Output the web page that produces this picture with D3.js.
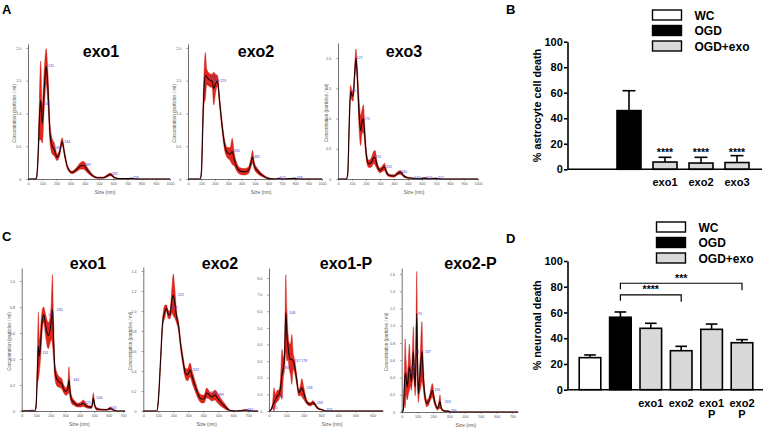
<!DOCTYPE html>
<html><head><meta charset="utf-8">
<script src="https://cdn.jsdelivr.net/npm/d3@7"></script>
<style>body{margin:0;background:#fff}svg{display:block}</style>
</head><body>
<svg id="c" width="769" height="434"></svg>
<script>
// ---------- DATA ----------
// NTA size distributions: [size nm, mean concentration, +/- error]
const ntaA1 = [[0,0,0],[50,0,0],[60,0.02,0.01],[70,0.3,0.1],[80,0.9,0.3],[89,1.2,0.6],[101,0.85,0.3],[115,1.4,0.3],[128,1.72,0.27],[140,1.4,0.25],[155,0.7,0.15],[170,0.5,0.12],[185,0.45,0.1],[205,0.33,0.05],[220,0.38,0.05],[240,0.57,0.06],[260,0.35,0.05],[280,0.17,0.03],[310,0.1,0.02],[340,0.14,0.03],[370,0.2,0.05],[390,0.21,0.06],[420,0.13,0.04],[450,0.06,0.02],[490,0.02,0.01],[530,0.02,0.01],[560,0.05,0.02],[580,0.07,0.02],[610,0.02,0.01],[650,0.005,0.003],[700,0.005,0.003],[730,0.01,0.005],[780,0,0],[1000,0,0]];
const ntaA2 = [[0,0,0],[90,0,0],[100,0.1,0.05],[110,0.8,0.2],[120,1.4,0.25],[130,1.58,0.35],[140,1.56,0.12],[155,1.52,0.1],[170,1.5,0.1],[180,1.5,0.1],[192,1.38,0.25],[205,1.45,0.15],[220,1.5,0.08],[235,1.2,0.08],[255,0.8,0.08],[275,0.5,0.08],[295,0.4,0.08],[315,0.38,0.1],[330,0.42,0.2],[345,0.3,0.1],[365,0.18,0.06],[390,0.12,0.05],[420,0.11,0.05],[450,0.13,0.05],[470,0.25,0.07],[482,0.34,0.1],[495,0.2,0.05],[520,0.12,0.04],[560,0.05,0.02],[600,0.01,0.01],[650,0,0],[680,0.01,0.005],[720,0,0],[800,0.01,0.005],[830,0,0],[1000,0,0]];
const ntaA3 = [[0,0,0],[60,0,0],[70,0.1,0.05],[80,0.9,0.15],[90,1.45,0.1],[100,1.38,0.08],[108,1.37,0.08],[118,1.7,0.12],[128,2.0,0.15],[138,1.7,0.15],[150,1.1,0.25],[162,0.8,0.25],[172,0.95,0.2],[182,1.0,0.23],[192,0.7,0.15],[205,0.35,0.08],[220,0.25,0.06],[240,0.28,0.08],[255,0.36,0.1],[265,0.35,0.12],[280,0.22,0.06],[300,0.14,0.04],[320,0.18,0.05],[332,0.2,0.06],[345,0.12,0.04],[365,0.06,0.02],[400,0.05,0.02],[430,0.1,0.03],[445,0.11,0.03],[470,0.05,0.02],[500,0.02,0.01],[540,0.01,0.005],[580,0.005,0.003],[620,0.015,0.01],[650,0.005,0.003],[700,0.01,0.005],[740,0,0],[1000,0,0]];
const ntaC1 = [[0,0,0],[40,0.002,0.001],[90,0,0],[100,0.05,0.03],[108,0.3,0.1],[115,0.5,0.26],[122,0.42,0.12],[132,0.55,0.12],[142,0.7,0.08],[152,0.74,0.06],[162,0.68,0.08],[175,0.6,0.1],[184,0.58,0.1],[195,0.62,0.1],[205,0.7,0.15],[212,0.78,0.27],[220,0.55,0.15],[230,0.3,0.06],[245,0.24,0.05],[262,0.22,0.04],[276,0.21,0.04],[290,0.17,0.03],[305,0.15,0.03],[318,0.17,0.04],[326,0.24,0.1],[334,0.15,0.05],[345,0.085,0.03],[365,0.06,0.02],[385,0.045,0.015],[410,0.05,0.02],[425,0.06,0.025],[445,0.04,0.015],[465,0.03,0.01],[483,0.03,0.01],[494,0.1,0.04],[505,0.04,0.015],[520,0.015,0.01],[560,0.01,0.005],[590,0.01,0.005],[610,0.02,0.01],[630,0.01,0.005],[660,0,0],[713,0,0]];
const ntaC2 = [[0,0,0],[90,0,0],[100,0.1,0.03],[115,0.5,0.05],[130,0.9,0.05],[145,1.0,0.06],[155,1.03,0.03],[165,0.97,0.04],[178,0.96,0.04],[190,1.1,0.12],[200,1.16,0.21],[210,1.08,0.15],[222,0.94,0.06],[235,0.85,0.05],[250,0.65,0.05],[265,0.5,0.05],[280,0.38,0.05],[295,0.36,0.06],[311,0.41,0.07],[330,0.32,0.06],[350,0.23,0.05],[370,0.15,0.04],[390,0.12,0.04],[405,0.12,0.04],[422,0.18,0.05],[440,0.16,0.04],[456,0.14,0.04],[478,0.16,0.05],[495,0.13,0.05],[515,0.09,0.04],[535,0.06,0.03],[555,0.03,0.02],[580,0.005,0.003],[620,0,0],[684,0.01,0.005],[720,0,0],[765,0,0]];
const ntaC3 = [[0,0,0],[10,0.05,0.03],[20,0.3,0.15],[29,0.5,0.9],[38,0.7,0.3],[47,0.9,0.35],[56,0.95,0.3],[65,1.3,0.4],[75,2.2,1.5],[83,2.6,0.6],[90,3.3,0.8],[97,5.9,2.3],[104,4.5,1.5],[110,3.9,0.8],[117,3.3,0.8],[124,3.1,0.9],[132,3.1,1.5],[140,3.0,0.5],[150,2.6,0.4],[160,1.9,0.3],[172,1.1,0.2],[182,1.25,0.3],[190,1.4,0.55],[200,1.1,0.4],[212,0.7,0.2],[225,0.45,0.1],[240,0.4,0.1],[252,0.5,0.12],[262,0.45,0.1],[275,0.25,0.08],[290,0.12,0.04],[306,0.08,0.03],[320,0.02,0.01],[340,0,0],[659,0,0]];
const ntaC4 = [[0,0,0],[10,0.02,0.01],[16,0.25,0.15],[22,0.45,0.4],[28,0.4,0.2],[35,0.29,0.15],[42,0.4,0.2],[48,0.52,0.27],[55,0.45,0.15],[61,0.35,0.1],[68,0.55,0.2],[74,0.7,0.29],[80,0.45,0.15],[85,0.29,0.1],[90,0.6,0.3],[95,1.14,0.49],[100,0.6,0.3],[105,0.21,0.1],[111,0.35,0.15],[117,0.45,0.2],[122,0.6,0.3],[128,0.7,0.35],[134,0.5,0.2],[141,0.29,0.1],[150,0.15,0.05],[158,0.1,0.04],[170,0.12,0.04],[180,0.18,0.05],[194,0.25,0.08],[205,0.15,0.05],[215,0.08,0.03],[227,0.04,0.02],[236,0.09,0.05],[242,0.12,0.08],[250,0.05,0.02],[259,0.02,0.01],[280,0.01,0.005],[295,0.01,0.005],[310,0,0],[735,0,0]];
// peak labels: [size, concentration]
const peaksA1 = [[101,1.15],[131,1.72],[180,0.48],[244,0.57],[389,0.21],[581,0.07],[728,0.01]];
const peaksA2 = [[143,1.55],[179,1.5],[229,1.5],[330,0.42],[482,0.34],[674,0.01],[798,0.01]];
const peaksA3 = [[90,1.45],[122,2.0],[175,1.0],[255,0.36],[332,0.2],[440,0.11],[536,0.01],[619,0.015],[702,0.01]];
const peaksC1 = [[46,0.002],[131,0.45],[172,0.74],[230,0.78],[345,0.24],[425,0.06],[506,0.1],[605,0.02]];
const peaksC2 = [[178,1.03],[222,1.16],[322,0.41],[438,0.18],[489,0.16],[684,0.01]];
const peaksC3 = [[21,0.16],[50,0.9],[83,2.6],[108,5.9],[137,3.0],[178,3.0],[208,1.4],[269,0.5],[323,0.05]];
const peaksC4 = [[36,0.45],[48,0.52],[74,0.7],[95,1.14],[137,0.7],[196,0.25],[263,0.12],[299,0.01]];
const ntaTitlesA = ["exo1","exo2","exo3"];
const ntaTitlesC = ["exo1","exo2","exo1-P","exo2-P"];
const yTicksA = [0,0.5,1.0,1.5,2.0];
const yTicksC1 = [0,0.2,0.4,0.6,0.8,1.0];
const yTicksC2 = [0,0.2,0.4,0.6,0.8,1.0,1.2,1.4];
const yTicksC3 = [0,1,2,3,4,5,6,7,8];
const yTicksC4 = [0,0.2,0.4,0.6,0.8,1.0,1.2,1.4,1.6];
const xTicksA = [0,100,200,300,400,500,600,700,800,900,1000];
const xTicksC = [0,100,200,300,400,500,600,700];
const xTicksC3 = [0,100,200,300,400,500,600];

// Bar charts
const legendLabels = ["WC","OGD","OGD+exo"];
const catsB = ["WC","OGD","exo1","exo2","exo3"];
const groupB = ["WC","OGD","OGD+exo","OGD+exo","OGD+exo"];
const valsB = [0,46,5.7,4.9,5.3];
const errTopB = [0,61.6,9.4,9.4,10.7];
const labelsB = [[],[],["exo1"],["exo2"],["exo3"]];
const sigB = ["","","****","****","****"];
const catsD = ["WC","OGD","exo1","exo2","exo1 P","exo2 P"];
const groupD = ["WC","OGD","OGD+exo","OGD+exo","OGD+exo","OGD+exo"];
const valsD = [24.9,56.3,47.7,30.3,46.9,36.5];
const errTopD = [27,60.4,51.6,33.7,51,38.9];
const labelsD = [[],[],["exo1"],["exo2"],["exo1","P"],["exo2","P"]];
const bracketFromD = ["OGD","OGD"];
const bracketToD = ["exo2 P","exo2"];
const bracketLevelD = [82.7,73.7];
const bracketTextD = ["***","****"];
const yTicksBar = [0,20,40,60,80,100];

// ---------- DRAW ----------
const FONT = "'Liberation Sans', Arial, Helvetica, sans-serif";
const RED = "#e1261c";
const svg = d3.select("#c").style("font-family", FONT);
const fmt1 = d => d === 0 ? "0" : d3.format(".1f")(d);

function drawNTA(c) {
  const x = d3.scaleLinear().domain([0, c.xMax]).range([c.x0, c.x1]);
  const y = d3.scaleLinear().domain([0, c.yMax]).range([c.yZero, c.yTop]);
  const g = svg.append("g");
  const area = d3.area().x(d => x(d[0]))
    .y0(d => y(Math.max(0, d[1] - d[2]))).y1(d => y(Math.min(c.yMax, d[1] + d[2])))
    .curve(d3.curveMonotoneX);
  const line = d3.line().x(d => x(d[0])).y(d => y(d[1])).curve(d3.curveMonotoneX);
  g.append("path").datum(c.data).attr("d", area).attr("fill", RED).attr("stroke", "#c41a12").attr("stroke-width", 0.4);
  g.append("path").datum(c.data).attr("d", line).attr("fill", "none").attr("stroke", "#1a0505").attr("stroke-width", 1.1);
  // peak labels
  g.selectAll("text.pk").data(c.peaks).join("text").attr("class", "pk")
    .attr("x", d => x(d[0]) + 1.5).attr("y", d => y(d[1]) + 1)
    .attr("font-size", 3.6).attr("fill", "#4a3fd0").text(d => d[0]);
  const xa = g.append("g").attr("transform", `translate(0,${c.yZero})`)
    .call(d3.axisBottom(x).tickValues(c.xTicks).tickSize(1.8).tickSizeOuter(0).tickPadding(2).tickFormat(d3.format("d")));
  const ya = g.append("g").attr("transform", `translate(${c.x0},0)`)
    .call(d3.axisLeft(y).tickValues(c.yTicks).tickSize(1.8).tickSizeOuter(0).tickPadding(5).tickFormat(fmt1));
  [xa, ya].forEach(a => {
    a.select(".domain").attr("stroke", "#333").attr("stroke-width", 0.7);
    a.selectAll(".tick line").attr("stroke", "#444").attr("stroke-width", 0.5);
    a.selectAll(".tick text").attr("font-size", 3.6).attr("fill", "#555").attr("font-family", FONT);
  });
  g.append("text").attr("x", (c.x0 + c.x1) / 2 + 6).attr("y", c.yZero + 14.5)
    .attr("text-anchor", "middle").attr("font-size", 4.8).attr("fill", "#555").text("Size (nm)");
  if (c.ylab !== null) {
    g.append("text").attr("transform", `translate(${c.ylab},${(c.yZero + c.yTop) / 2 + 2}) rotate(-90)`)
      .attr("text-anchor", "middle").attr("font-size", 4.6).attr("fill", "#555")
      .text("Concentration (particles / ml)");
  }
  g.append("text").attr("x", c.tx).attr("y", c.ty).attr("text-anchor", "middle")
    .attr("font-size", 16).attr("font-weight", "bold").attr("fill", "#000").text(c.title);
}

drawNTA({data: ntaA1, peaks: peaksA1, title: ntaTitlesA[0], x0: 28, x1: 170, xMax: 1000, yZero: 179, yTop: 44, yMax: 2.06, xTicks: xTicksA, yTicks: yTicksA, tx: 101, ty: 57, ylab: 16});
drawNTA({data: ntaA2, peaks: peaksA2, title: ntaTitlesA[1], x0: 188, x1: 322, xMax: 1000, yZero: 179, yTop: 44, yMax: 2.06, xTicks: xTicksA, yTicks: yTicksA, tx: 256, ty: 57, ylab: 176});
drawNTA({data: ntaA3, peaks: peaksA3, title: ntaTitlesA[2], x0: 338, x1: 478, xMax: 1000, yZero: 179, yTop: 43, yMax: 2.25, xTicks: xTicksA, yTicks: yTicksA, tx: 404, ty: 57, ylab: 328});
drawNTA({data: ntaC1, peaks: peaksC1, title: ntaTitlesC[0], x0: 21.7, x1: 125, xMax: 713, yZero: 411, yTop: 268, yMax: 1.1, xTicks: xTicksC, yTicks: yTicksC1, tx: 88, ty: 269, ylab: 11});
drawNTA({data: ntaC2, peaks: peaksC2, title: ntaTitlesC[1], x0: 143.3, x1: 258, xMax: 765, yZero: 411, yTop: 267, yMax: 1.44, xTicks: xTicksC, yTicks: yTicksC2, tx: 220, ty: 269, ylab: 132});
drawNTA({data: ntaC3, peaks: peaksC3, title: ntaTitlesC[2], x0: 269, x1: 383, xMax: 659, yZero: 411, yTop: 268, yMax: 8.6, xTicks: xTicksC3, yTicks: yTicksC3, tx: 346, ty: 269, ylab: null});
drawNTA({data: ntaC4, peaks: peaksC4, title: ntaTitlesC[3], x0: 401.7, x1: 518, xMax: 735, yZero: 412, yTop: 268, yMax: 1.67, xTicks: xTicksC, yTicks: yTicksC4, tx: 470.5, ty: 269, ylab: 388});

// panel letters
[["A", 2, 14], ["B", 506, 14], ["C", 2, 241], ["D", 506, 243]].forEach(p =>
  svg.append("text").attr("x", p[1]).attr("y", p[2]).attr("font-size", 13).attr("font-weight", "bold").text(p[0]));

const fillOf = {"WC": "#ffffff", "OGD": "#000000", "OGD+exo": "#d9d9d9"};

function drawBars(c) {
  const x = d3.scaleBand().domain(c.cats).range([c.bx0, c.bx1]).paddingInner(c.pin).paddingOuter(c.pout);
  const y = d3.scaleLinear().domain([0, 100]).range([c.yZero, c.yTop]);
  const g = svg.append("g");
  const rows = c.cats.map((k, i) => ({k, v: c.vals[i], e: c.errTop[i], grp: c.group[i], lab: c.labels[i], sig: c.sig ? c.sig[i] : ""}));
  const bw = x.bandwidth();
  // error bars (upper only)
  rows.filter(d => d.e > d.v).forEach(d => {
    const cx = x(d.k) + bw / 2;
    g.append("line").attr("x1", cx).attr("x2", cx).attr("y1", y(d.v)).attr("y2", y(d.e)).attr("stroke", "#000").attr("stroke-width", 1.6);
    g.append("line").attr("x1", cx - bw * 0.27).attr("x2", cx + bw * 0.27).attr("y1", y(d.e)).attr("y2", y(d.e)).attr("stroke", "#000").attr("stroke-width", 1.6);
  });
  g.selectAll("rect.bar").data(rows.filter(d => d.v > 0)).join("rect").attr("class", "bar")
    .attr("x", d => x(d.k)).attr("width", bw).attr("y", d => y(d.v)).attr("height", d => y(0) - y(d.v))
    .attr("fill", d => fillOf[d.grp]).attr("stroke", "#000").attr("stroke-width", 1.6);
  // axes
  const ya = g.append("g").attr("transform", `translate(${c.ax},0)`)
    .call(d3.axisLeft(y).tickValues(yTicksBar).tickSize(3.5).tickSizeOuter(0).tickPadding(1.2));
  ya.select(".domain").attr("stroke", "#000").attr("stroke-width", 1.6);
  ya.selectAll(".tick line").attr("stroke", "#000").attr("stroke-width", 1.6);
  ya.selectAll(".tick text").attr("font-size", 11).attr("font-weight", "bold").attr("fill", "#000").attr("font-family", FONT);
  g.append("line").attr("x1", c.ax).attr("x2", c.axEnd).attr("y1", y(0)).attr("y2", y(0)).attr("stroke", "#000").attr("stroke-width", 1.6);
  // category labels
  rows.forEach(d => d.lab.forEach((t, j) =>
    g.append("text").attr("x", x(d.k) + bw / 2).attr("y", c.labY + j * 11.6).attr("text-anchor", "middle")
      .attr("font-size", 11).attr("font-weight", "bold").text(t)));
  // y label
  g.append("text").attr("transform", `translate(${c.ylx},${(c.yZero + c.yTop) / 2}) rotate(-90)`)
    .attr("text-anchor", "middle").attr("font-size", 10.8).attr("font-weight", "bold").text(c.ylabel);
  // legend
  legendLabels.forEach((t, i) => {
    g.append("rect").attr("x", c.lx).attr("y", c.ly + i * c.lstep).attr("width", 29).attr("height", 10)
      .attr("fill", fillOf[t]).attr("stroke", "#000").attr("stroke-width", 1.4);
    g.append("text").attr("x", c.lx + 42).attr("y", c.ly + i * c.lstep + 9.5).attr("font-size", 12)
      .attr("font-weight", "bold").text(t);
  });
  return {g, x, y, bw, rows};
}

const B = drawBars({cats: catsB, vals: valsB, errTop: errTopB, group: groupB, labels: labelsB, sig: sigB,
  bx0: 575, bx1: 755, pin: 1 / 3, pout: 1 / 6, yZero: 169.3, yTop: 41.7, ax: 567.5, axEnd: 762,
  labY: 186, ylx: 541, ylabel: "% astrocyte cell death", lx: 652.5, ly: 10, lstep: 15.5});
B.rows.filter(d => d.sig).forEach(d =>
  B.g.append("text").attr("x", B.x(d.k) + B.bw / 2).attr("y", B.y(10.5)).attr("text-anchor", "middle")
    .attr("font-size", 10.5).attr("font-weight", "bold").text(d.sig));

const D = drawBars({cats: catsD, vals: valsD, errTop: errTopD, group: groupD, labels: labelsD,
  bx0: 574.8, bx1: 757.2, pin: 0.29, pout: 0.145, yZero: 389.7, yTop: 261, ax: 567.5, axEnd: 763,
  labY: 406.7, ylx: 541, ylabel: "% neuronal death", lx: 656.5, ly: 222, lstep: 15.5});
bracketFromD.forEach((f, i) => {
  const x1 = D.x(f) + D.bw / 2, x2 = D.x(bracketToD[i]) + D.bw / 2, yy = D.y(bracketLevelD[i]);
  D.g.append("path").attr("d", `M${x1},${yy + 6} V${yy} H${x2} V${yy + 7}`)
    .attr("fill", "none").attr("stroke", "#000").attr("stroke-width", 1.2);
  D.g.append("text").attr("x", (x1 + x2) / 2).attr("y", yy - 1.5).attr("text-anchor", "middle")
    .attr("font-size", 10.5).attr("font-weight", "bold").text(bracketTextD[i]);
});
</script>
</body></html>
